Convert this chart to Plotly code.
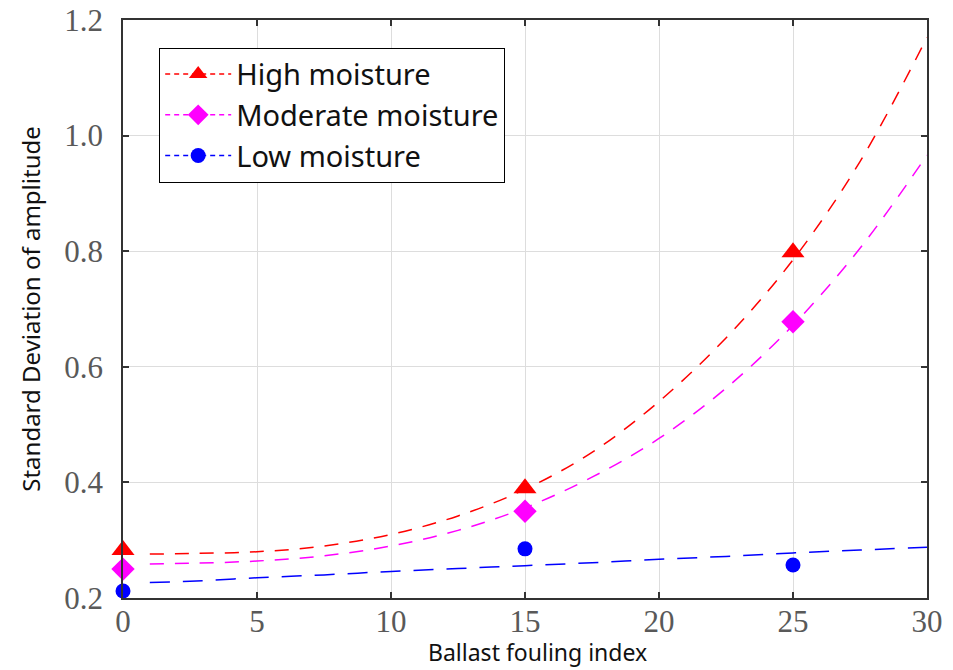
import plotly.graph_objects as go

# measured points
pt_x = [0, 15, 25]
high_pts = [0.283, 0.390, 0.798]
mod_pts = [0.250, 0.350, 0.678]
low_pts = [0.212, 0.285, 0.257]

# fitted curves
fit_x = [1, 2.5, 5, 7.5, 10, 12.5, 15, 17.5, 20, 22.5, 25, 27.5, 30]
high_fit = [0.276, 0.277, 0.280, 0.290, 0.310, 0.342, 0.388, 0.452, 0.540, 0.650, 0.785, 0.955, 1.170]
mod_fit = [0.259, 0.260, 0.264, 0.273, 0.290, 0.317, 0.356, 0.409, 0.476, 0.563, 0.672, 0.805, 0.966]
low_fit = [0.227, 0.229, 0.235, 0.240, 0.246, 0.251, 0.256, 0.261, 0.267, 0.272, 0.278, 0.283, 0.288]

series_names = ["High moisture", "Moderate moisture", "Low moisture"]
colors = ["#ff0000", "#ff00ff", "#0000ff"]
symbols = ["triangle-up", "diamond", "circle"]
msizes = [20, 18, 15]
dashes = ["14px,11px", "14px,11px", "20px,13px"]

x_ticks = [0, 5, 10, 15, 20, 25, 30]
y_ticks = [0.2, 0.4, 0.6, 0.8, 1.0, 1.2]
y_tick_text = ["0.2", "0.4", "0.6", "0.8", "1.0", "1.2"]

fig = go.Figure()
for name, pts, fit, c, s, ms, d in zip(series_names, [high_pts, mod_pts, low_pts],
                                       [high_fit, mod_fit, low_fit], colors, symbols, msizes, dashes):
    fig.add_trace(go.Scatter(x=fit_x, y=fit, mode="lines", line=dict(color=c, width=1.5, dash=d, shape="spline"),
                             showlegend=False, hoverinfo="skip"))
    fig.add_trace(go.Scatter(x=pt_x, y=pts, mode="markers", cliponaxis=False,
                             marker=dict(color=c, symbol=s, size=ms, line=dict(width=0)),
                             showlegend=False, name=name))
    # legend entry: dashed line with marker
    fig.add_trace(go.Scatter(x=[None], y=[None], mode="lines+markers", name=name,
                             marker=dict(color=c, symbol=s, size=ms, line=dict(width=0)),
                             line=dict(color=c, width=1.5, dash="5px,4px")))

tick_font = dict(family="Liberation Serif", size=31, color="#595959")
axis_common = dict(showline=True, linecolor="#333333", linewidth=1.5, mirror="ticks",
                   ticks="inside", ticklen=6, tickcolor="#333333", tickwidth=1.5,
                   showgrid=True, gridcolor="#dddddd", gridwidth=1, zeroline=False,
                   tickfont=tick_font, automargin=False)

fig.update_layout(
    width=953, height=670,
    margin=dict(l=123, r=26, t=20, b=72, autoexpand=False),
    paper_bgcolor="white", plot_bgcolor="white",
    xaxis=dict(range=[0, 30], tickvals=x_ticks, ticklabelstandoff=-5, **axis_common),
    yaxis=dict(range=[0.2, 1.2], tickvals=y_ticks, ticktext=y_tick_text, ticklabelstandoff=12, **axis_common),
    legend=dict(x=0.045, y=0.952, xanchor="left", yanchor="top", bgcolor="white",
                bordercolor="black", borderwidth=1,
                font=dict(family="Noto Sans", size=29, color="#111111"),
                tracegroupgap=0, itemwidth=66),
    showlegend=True,
    annotations=[
        dict(text="Ballast fouling index", xref="paper", yref="paper", x=0.515, y=-0.1246,
             xanchor="center", yanchor="bottom", showarrow=False,
             font=dict(family="Noto Sans", size=23, color="#111111")),
        dict(text="Standard Deviation of amplitude", xref="paper", yref="paper", x=-0.116, y=0.5,
             xanchor="center", yanchor="middle", showarrow=False, textangle=-90,
             font=dict(family="Noto Sans", size=24, color="#111111")),
    ],
)

fig.write_html("out.html", config={"displayModeBar": False},
               post_script="document.body.style.margin='0';")
